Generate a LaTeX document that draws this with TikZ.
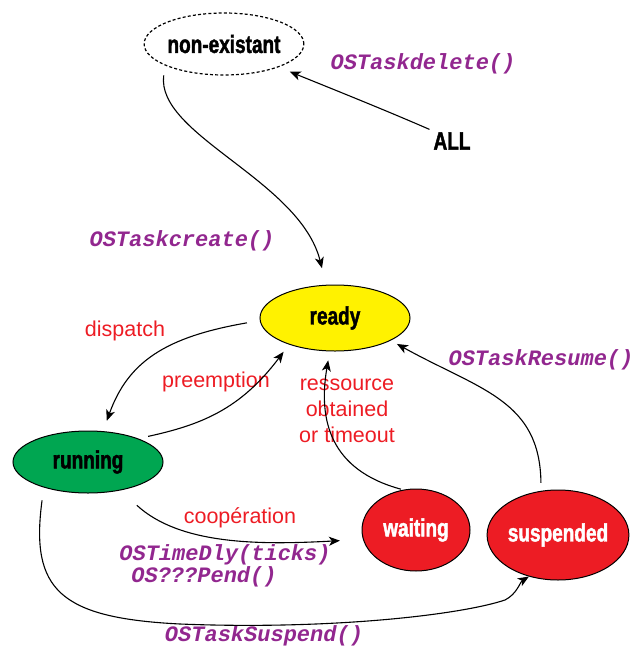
\documentclass[tikz,border=0pt]{standalone}
\usepackage{fontspec}
\setmainfont{Liberation Sans}
\newfontfamily\statefont{Liberation Sans}[FakeStretch=0.76, FakeBold=1.6]
\newfontfamily\codefont{Liberation Mono}
\usetikzlibrary{shapes.geometric,arrows.meta}
\definecolor{stateyellow}{RGB}{255,242,0}
\definecolor{stategreen}{RGB}{0,166,81}
\definecolor{statered}{RGB}{237,28,36}
\definecolor{callpurple}{RGB}{146,39,143}
\definecolor{eventred}{RGB}{237,28,36}
\tikzset{
  state/.style={ellipse, draw=black, line width=1pt, inner sep=0pt,
    font=\fontsize{25}{27}\statefont\bfseries},
  tag/.style={inner sep=2pt, font=\fontsize{25}{27}\statefont\bfseries},
  call/.style={inner sep=1pt, text=callpurple,
    font=\fontsize{22}{24}\codefont\bfseries\itshape},
  event/.style={inner sep=1pt, text=eventred, align=center,
    font=\fontsize{21.5}{26}\selectfont},
  arr/.style={draw=black, line width=1.1pt,
    -{Stealth[length=11pt,width=9pt,inset=3pt]}},
}
\begin{document}
\begin{tikzpicture}[x=1pt,y=-1pt]
\useasboundingbox (0,0) rectangle (633,646);

% states
\node[state, dashed, dash pattern=on 3pt off 2.2pt, line width=1.2pt,
  minimum width=150pt, minimum height=62pt] (ne) at (224,44) {non-existant};
\node[state, fill=stateyellow, minimum width=150pt, minimum height=66pt]
  (rd) at (335,318) {ready};
\node[state, fill=stategreen, minimum width=150pt, minimum height=62pt]
  (ru) at (88,462) {running};
\node[state, fill=statered, text=white, minimum width=108pt, minimum height=82pt]
  (wa) at (416,530) {waiting};
\node[state, fill=statered, text=white, minimum width=110pt, minimum height=90pt]
  (su) at (558,535) {suspended};
\node[tag] (all) at (452,141) {ALL};

% labels
\node[call] (lbldelete) at (423,64) {OSTaskdelete()};
\node[call] (lblcreate) at (182,241) {OSTaskcreate()};
\node[call] (lblresume) at (541,360) {OSTaskResume()};
\node[call] (lbldly) at (225,555) {OSTimeDly(ticks)};
\node[call] (lblpend) at (204,577) {OS???Pend()};
\node[call] (lblsuspend) at (264,636) {OSTaskSuspend()};
\node[event] (lbldispatch) at (125,331) {dispatch};
\node[event] (lblpreempt) at (216,382) {preemption};
\node[event] (lblcoop) at (240,518) {coopération};
\node[event] (lblres) at (347,411) {ressource\\obtained\\or timeout};

% transitions
\draw[arr, shorten <=10pt, shorten >=17pt]
  (ne.200) .. controls (156,135) and (300,180) .. (rd.105);
\draw[arr, shorten <=2pt, shorten >=12pt]
  (all.north west) .. controls (385,110) and (330,88) .. (ne.-23);
\draw[arr, shorten <=13pt, shorten >=11pt]
  (rd.182) .. controls (165,337) and (128,362) .. (ru.64);
\draw[arr, shorten <=10pt, shorten >=9pt]
  (ru.25) .. controls (200,425) and (240,410) .. (rd.210);
\draw[arr, shorten <=2pt, shorten >=9pt]
  (wa.108) .. controls (330,470) and (318,420) .. (rd.261);
\draw[arr, shorten <=8pt, shorten >=7pt]
  (su.111) .. controls (540,400) and (480,390) .. (rd.-22);
\draw[arr, shorten <=22pt, shorten >=23pt]
  (ru.-41) .. controls (180,545) and (260,545) .. (wa.190);
\draw[arr, shorten <=13pt]
  (ru.210) .. controls (30,590) and (60,618) .. (180,624)
  .. controls (330,630) and (460,615) .. (505,600)
  .. controls (517,594) and (520,582) .. (su.235);
\end{tikzpicture}
\end{document}
